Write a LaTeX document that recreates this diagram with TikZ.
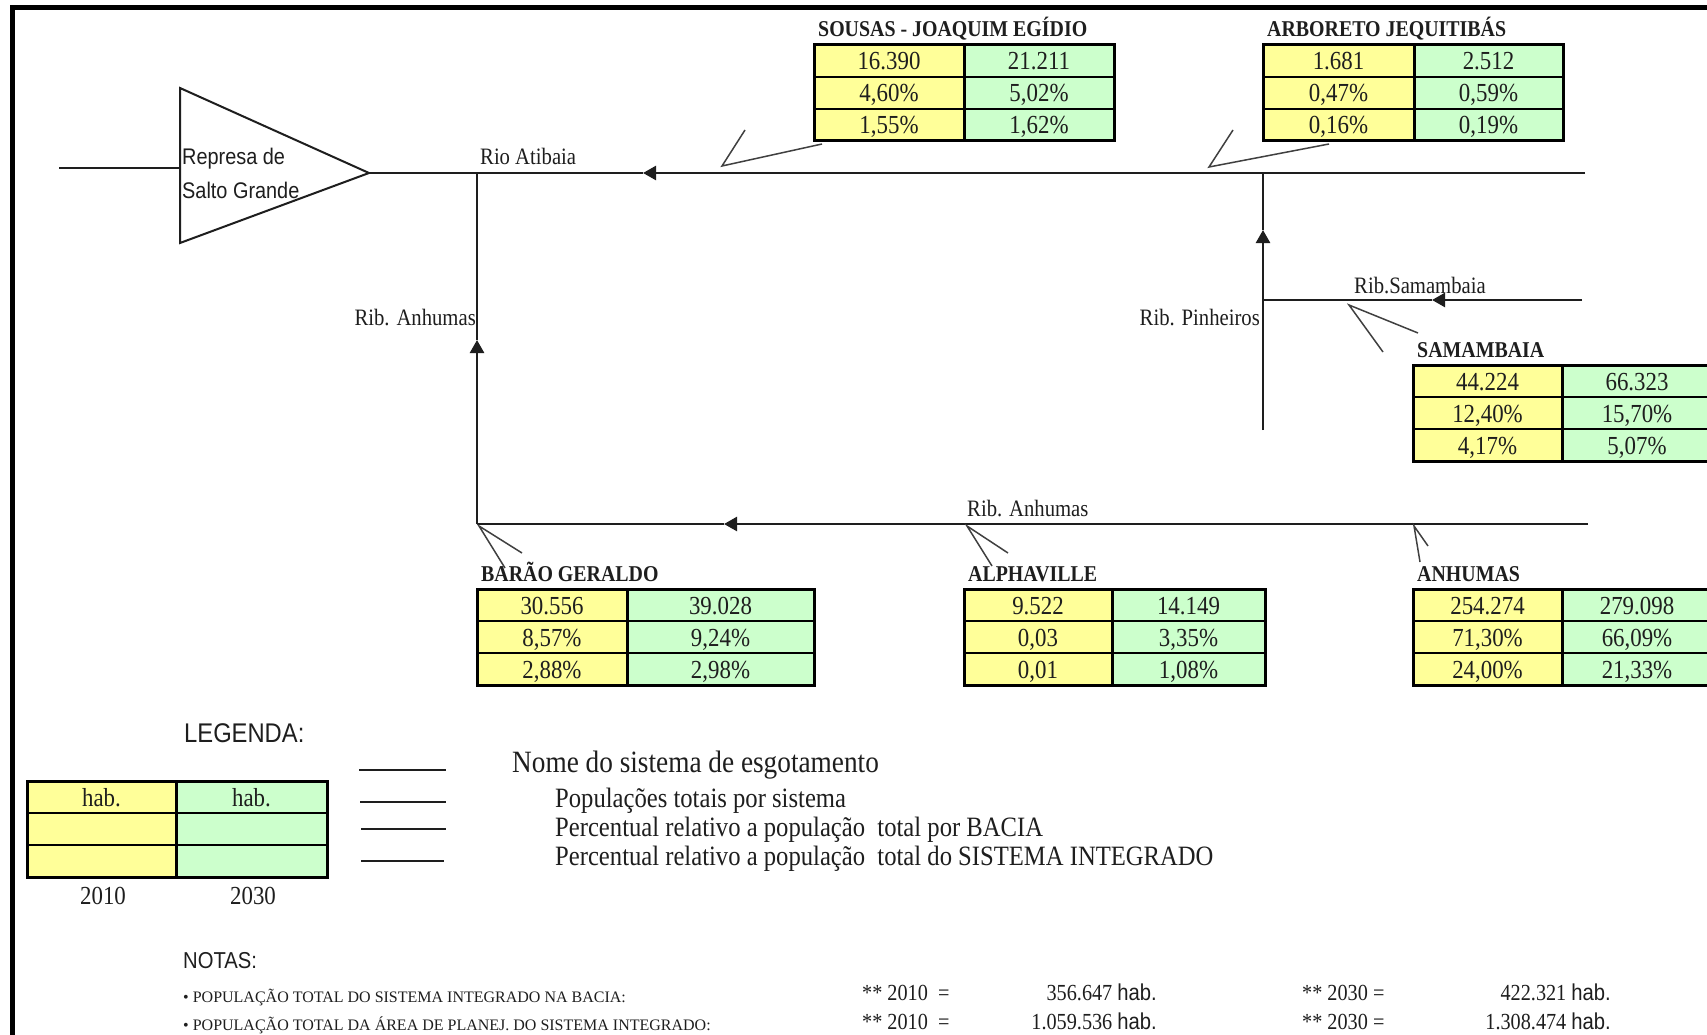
\documentclass[tikz,border=0pt]{standalone}
\usepackage{fontspec}
\setmainfont{Liberation Serif}[FakeStretch=0.88]
\newfontfamily\sansf{Liberation Sans}[FakeStretch=0.88]
\newfontfamily\notef{Liberation Serif}
\usetikzlibrary{arrows.meta}
\definecolor{cellY}{HTML}{FFFF99}
\definecolor{cellG}{HTML}{CCFFCC}
\definecolor{ink}{HTML}{1E1E1E}
\newcommand\fsz[1]{\fontsize{#1}{#1}\selectfont}
\tikzset{
  x=1pt, y=-1pt,
  river/.style={line width=2.5pt, draw=ink},
  tabout/.style={line width=3pt, draw=black},
  tabin/.style={line width=2pt, draw=black},
  callout/.style={line width=1.5pt, draw=ink!85, line join=miter},
  legline/.style={line width=2pt, draw=ink},
  ttl/.style={inner sep=0pt, anchor=base west, text=ink, font=\fsz{22.6}\bfseries},
  num/.style={inner sep=0pt, anchor=base, text=ink, font=\fsz{26}},
  lbl/.style={inner sep=0pt, text=ink, font=\fsz{23.5}},
  sanslbl/.style={inner sep=0pt, anchor=base west, text=ink, font=\sansf\fsz{22.6}},
  flow/.style={-{Triangle[length=13pt,width=14pt]}},
}
% #1 name, #2 L, #3 D, #4 R, #5 T, #6 title
\newcommand\poptab[6]{%
  \fill[cellY] (#2,#5) rectangle (#3,{#5+96});
  \fill[cellG] (#3,#5) rectangle (#4,{#5+96});
  \draw[tabin] (#2,{#5+32}) -- (#4,{#5+32}) (#2,{#5+64}) -- (#4,{#5+64});
  \draw[tabout] (#2,#5) rectangle (#4,{#5+96});
  \draw[tabout] (#3,#5) -- (#3,{#5+96});
  \node[ttl] (#1) at ({#2+4},{#5-8}) {#6};
}
% #1 name, #2 L, #3 D, #4 R, #5 row top, #6 left text, #7 right text
\newcommand\poprow[7]{%
  \node[num] (#1a) at ({(#2+#3)/2},{#5+25}) {#6};
  \node[num] (#1b) at ({(#3+#4)/2},{#5+25}) {#7};
}
\begin{document}
\begin{tikzpicture}
\useasboundingbox (0,0) rectangle (1707,1035);
\fill[white] (0,0) rectangle (1707,1035);
% frame
\draw[line width=5pt] (12,1045) -- (12,8) -- (1715,8);

% dam
\coordinate (dT) at (180,88);
\coordinate (dB) at (180,243);
\coordinate (dA) at (369,173);
\draw[line width=2pt, draw=ink, line join=miter] (dT) -- (dA) -- (dB) -- cycle;
\coordinate (inL) at (59,168);
\coordinate (inR) at (180,168);
\draw[river] (inL) -- (inR);
\node[sanslbl] (rep1) at (182,165) {Represa de};
\node[sanslbl] (rep2) at (182,198) {Salto Grande};

% main river
\coordinate (mE) at (1585,173);
\coordinate (J2) at (1263,173);
\coordinate (J1) at (477,173);
\coordinate (mArr) at (643,173);
\draw[river, flow] (mE) -- (mArr);
\draw[river] (mArr) -- (dA);
\node[lbl, anchor=base west] (atibaia) at (480,165) {Rio Atibaia};

% left vertical (Rib. Anhumas)
\coordinate (bW) at (477,524);
\coordinate (aUp) at (477,340);
\draw[river, flow] (bW) -- (aUp);
\draw[river] (aUp) -- (J1);
\node[lbl, anchor=base east] (anhL) at (476,325) {Rib. Anhumas};

% Pinheiros vertical
\coordinate (pB) at (1263,430);
\coordinate (pUp) at (1263,230);
\draw[river, flow] (pB) -- (pUp);
\draw[river] (pUp) -- (J2);
\node[lbl, anchor=base east] (pinh) at (1260,325) {Rib. Pinheiros};

% Samambaia branch
\coordinate (sE) at (1582,300);
\coordinate (sJ) at (1263,300);
\coordinate (sArr) at (1432,300);
\draw[river, flow] (sE) -- (sArr);
\draw[river] (sArr) -- (sJ);
\node[lbl, anchor=base west] (samR) at (1354,293) {Rib.Samambaia};

% bottom branch
\coordinate (bE) at (1588,524);
\coordinate (bArr) at (724,524);
\draw[river, flow] (bE) -- (bArr);
\draw[river] (bArr) -- (bW);
\node[lbl, anchor=base west] (anhB) at (967,516) {Rib. Anhumas};

% callouts
\coordinate (c1a) at (822,144); \coordinate (c1t) at (722,166); \coordinate (c1b) at (745,130);
\draw[callout] (c1a) -- (c1t) -- (c1b);
\coordinate (c2a) at (1329,144); \coordinate (c2t) at (1209,167); \coordinate (c2b) at (1233,130);
\draw[callout] (c2a) -- (c2t) -- (c2b);
\coordinate (c3a) at (1418,333); \coordinate (c3t) at (1349,305); \coordinate (c3b) at (1383,352);
\draw[callout] (c3a) -- (c3t) -- (c3b);
\coordinate (c4a) at (522,553); \coordinate (c4t) at (479,526); \coordinate (c4b) at (505,568);
\draw[callout] (c4a) -- (c4t) -- (c4b);
\coordinate (c5a) at (1008,553); \coordinate (c5t) at (967,526); \coordinate (c5b) at (992,566);
\draw[callout] (c5a) -- (c5t) -- (c5b);
\coordinate (c6a) at (1428,546); \coordinate (c6t) at (1414,526); \coordinate (c6b) at (1420,562);
\draw[callout] (c6a) -- (c6t) -- (c6b);

% tables
\poptab{sousas}{814}{964}{1114}{45}{SOUSAS - JOAQUIM EGÍDIO}
\poprow{sou1}{814}{964}{1114}{45}{16.390}{21.211}
\poprow{sou2}{814}{964}{1114}{77}{4,60\%}{5,02\%}
\poprow{sou3}{814}{964}{1114}{109}{1,55\%}{1,62\%}

\poptab{arbor}{1263}{1414}{1563}{45}{ARBORETO JEQUITIBÁS}
\poprow{arb1}{1263}{1414}{1563}{45}{1.681}{2.512}
\poprow{arb2}{1263}{1414}{1563}{77}{0,47\%}{0,59\%}
\poprow{arb3}{1263}{1414}{1563}{109}{0,16\%}{0,19\%}

\poptab{samam}{1413}{1562}{1712}{365}{SAMAMBAIA}
\poprow{sam1}{1413}{1562}{1712}{365}{44.224}{66.323}
\poprow{sam2}{1413}{1562}{1712}{397}{12,40\%}{15,70\%}
\poprow{sam3}{1413}{1562}{1712}{429}{4,17\%}{5,07\%}

\poptab{barao}{477}{627}{814}{589}{BARÃO GERALDO}
\poprow{bar1}{477}{627}{814}{589}{30.556}{39.028}
\poprow{bar2}{477}{627}{814}{621}{8,57\%}{9,24\%}
\poprow{bar3}{477}{627}{814}{653}{2,88\%}{2,98\%}

\poptab{alpha}{964}{1112}{1265}{589}{ALPHAVILLE}
\poprow{alp1}{964}{1112}{1265}{589}{9.522}{14.149}
\poprow{alp2}{964}{1112}{1265}{621}{0,03}{3,35\%}
\poprow{alp3}{964}{1112}{1265}{653}{0,01}{1,08\%}

\poptab{anhum}{1413}{1562}{1712}{589}{ANHUMAS}
\poprow{anh1}{1413}{1562}{1712}{589}{254.274}{279.098}
\poprow{anh2}{1413}{1562}{1712}{621}{71,30\%}{66,09\%}
\poprow{anh3}{1413}{1562}{1712}{653}{24,00\%}{21,33\%}

% legend
\node[sanslbl, font=\sansf\fsz{27}] (legenda) at (184,742) {LEGENDA:};
\fill[cellY] (27,781) rectangle (176,877);
\fill[cellG] (176,781) rectangle (327,877);
\draw[tabin] (27,813) -- (327,813) (27,845) -- (327,845);
\draw[tabout] (27,781) rectangle (327,877);
\draw[tabout] (176,781) -- (176,877);
\node[num] (habA) at (101.5,806) {hab.};
\node[num] (habB) at (251.5,806) {hab.};
\node[num] (y2010) at (103,904) {2010};
\node[num] (y2030) at (253,904) {2030};

\coordinate (l1a) at (359,770); \coordinate (l1b) at (446,770);
\coordinate (l2a) at (360,802); \coordinate (l2b) at (446,802);
\coordinate (l3a) at (361,829); \coordinate (l3b) at (446,829);
\coordinate (l4a) at (361,861); \coordinate (l4b) at (444,861);
\draw[legline] (l1a) -- (l1b);
\draw[legline] (l2a) -- (l2b);
\draw[legline] (l3a) -- (l3b);
\draw[legline] (l4a) -- (l4b);
\node[lbl, anchor=base west, font=\fsz{31}] (leg1) at (512,772) {Nome do sistema de esgotamento};
\node[lbl, anchor=base west, font=\fsz{28}] (leg2) at (555,807) {Populações totais por sistema};
\node[lbl, anchor=base west, font=\fsz{28}] (leg3) at (555,836) {Percentual relativo a população~ total por BACIA};
\node[lbl, anchor=base west, font=\fsz{28}] (leg4) at (555,865) {Percentual relativo a população~ total do SISTEMA INTEGRADO};

% notes
\node[sanslbl, font=\sansf\fsz{23}] (notas) at (183,968) {NOTAS:};
\node[lbl, anchor=base west, font=\notef\fsz{16}] (n1) at (183,1002) {• POPULAÇÃO TOTAL DO SISTEMA INTEGRADO NA BACIA:};
\node[lbl, anchor=base west, font=\notef\fsz{16}] (n2) at (183,1030) {• POPULAÇÃO TOTAL DA ÁREA DE PLANEJ. DO SISTEMA INTEGRADO:};
\node[lbl, anchor=base west, font=\fsz{23}] (n1y1) at (862,1000) {** 2010~ =};
\node[lbl, anchor=base east, font=\fsz{23}] (n1v1) at (1157,1000) {356.647 {\sansf hab.}};
\node[lbl, anchor=base west, font=\fsz{23}] (n1y2) at (1302,1000) {** 2030 =};
\node[lbl, anchor=base east, font=\fsz{23}] (n1v2) at (1611,1000) {422.321 {\sansf hab.}};
\node[lbl, anchor=base west, font=\fsz{23}] (n2y1) at (862,1029) {** 2010~ =};
\node[lbl, anchor=base east, font=\fsz{23}] (n2v1) at (1157,1029) {1.059.536 {\sansf hab.}};
\node[lbl, anchor=base west, font=\fsz{23}] (n2y2) at (1302,1029) {** 2030 =};
\node[lbl, anchor=base east, font=\fsz{23}] (n2v2) at (1611,1029) {1.308.474 {\sansf hab.}};
\end{tikzpicture}
\end{document}
